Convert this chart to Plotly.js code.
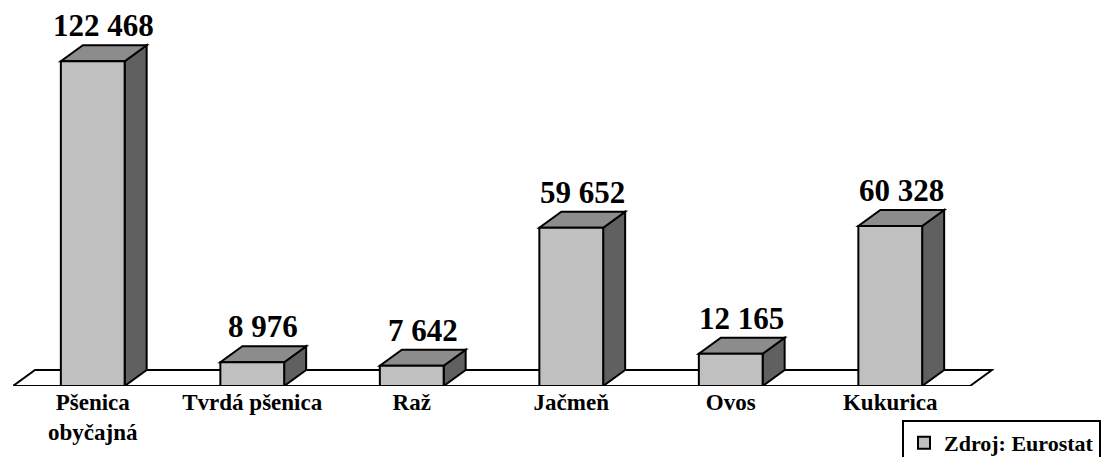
<!DOCTYPE html>
<html>
<head>
<meta charset="utf-8">
<script src="https://cdn.plot.ly/plotly-3.0.1.min.js"></script>
<style>html,body{margin:0;padding:0;background:#fff;}#chart{width:1106px;height:457px;}</style>
</head>
<body>
<div id="chart"></div>
<script>
const categories = ["Pšenica<br>obyčajná", "Tvrdá pšenica", "Raž", "Jačmeň", "Ovos", "Kukurica"];
const values = [122468, 8976, 7642, 59652, 12165, 60328];
const seriesName = "Zdroj: Eurostat";

const W = 1106, H = 457;
const pxPerCat = 159.5;
const depthPxX = 22, depthPxY = 16;
const mL = 13, mT = 20, mB = 71;
const plotW = pxPerCat * categories.length + depthPxX + 2;
const mR = W - mL - plotW;
const plotH = H - mT - mB;
const yMax = 138000;
const barW = 0.4;
const pxPerVal = plotH / yMax;
const depthX = depthPxX / pxPerCat;   // depth offset in category units
const depthY = depthPxY / pxPerVal;   // depth offset in value units

const FRONT = "#C0C0C0", TOP = "#8C8C8C", SIDE = "#606060";
const FONT = "'Liberation Serif', 'Times New Roman', serif";

function fmt(v){ return String(v).replace(/\B(?=(\d{3})+(?!\d))/g, "\u00a0"); }

const xs = categories.map((c, i) => i);

const shapes = [];
const x0 = -0.5, x1 = categories.length - 0.5;
// floor
shapes.push({type:"path", xref:"x", yref:"y", layer:"below",
  path:`M${x0},0 L${x1},0 L${x1+depthX},${depthY} L${x0+depthX},${depthY} Z`,
  fillcolor:"#ffffff", line:{color:"#000", width:2}});
values.forEach((v, i) => {
  const l = i - barW/2, r = i + barW/2;
  shapes.push({type:"path", xref:"x", yref:"y", layer:"below",
    path:`M${r},0 L${r},${v} L${r+depthX},${v+depthY} L${r+depthX},${depthY} Z`,
    fillcolor:SIDE, line:{color:"#000", width:2}});
  shapes.push({type:"path", xref:"x", yref:"y", layer:"below",
    path:`M${l},${v} L${r},${v} L${r+depthX},${v+depthY} L${l+depthX},${v+depthY} Z`,
    fillcolor:TOP, line:{color:"#000", width:2}});
});

const annotations = values.map((v, i) => ({
  x: i + depthX/2, y: v + depthY, xref:"x", yref:"y",
  text: "<b>" + fmt(v) + "</b>", showarrow:false, yanchor:"bottom", xanchor:"center",
  font:{family:FONT, size:31, color:"#000"}
}));

const trace = {
  type:"bar", x: xs, y: values, width: barW, name: "<b>" + seriesName + "</b>", showlegend:true,
  marker:{color:FRONT, line:{color:"#000", width:2}},
  hoverinfo:"skip"
};

const layout = {
  width: W, height: H,
  margin:{l:mL, r:mR, t:mT, b:mB, pad:0, autoexpand:false},
  paper_bgcolor:"#fff", plot_bgcolor:"rgba(0,0,0,0)",
  showlegend:true,
  legend:{x:(902-mL)/plotW, y:(plotH+mT-420)/plotH, xanchor:"left", yanchor:"top",
    bordercolor:"#000", borderwidth:2, bgcolor:"#fff",
    font:{family:FONT, size:22, color:"#000"}},
  xaxis:{range:[x0, x1 + (depthPxX + 2)/pxPerCat], tickvals: xs,
    ticktext: categories.map(c => "<b>" + c + "</b>"), showgrid:false, zeroline:false,
    showline:false, ticks:"", fixedrange:true,
    tickfont:{family:FONT, size:23, color:"#000"}},
  yaxis:{range:[0, yMax], visible:false, showgrid:false, zeroline:false, fixedrange:true},
  shapes: shapes, annotations: annotations, bargap:0
};

Plotly.newPlot("chart", [trace], layout, {displayModeBar:false, staticPlot:true});
</script>
</body>
</html>
